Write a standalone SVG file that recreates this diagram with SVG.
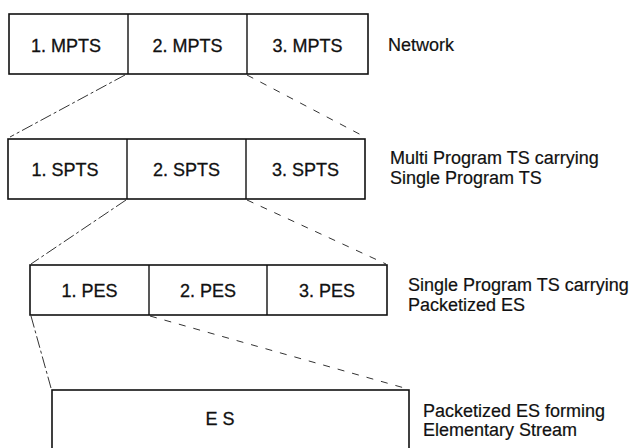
<svg xmlns="http://www.w3.org/2000/svg" width="640" height="448" viewBox="0 0 640 448">
  <style>
    .box { fill: #ffffff; stroke: #111111; stroke-width: 1.6; }
    .div { stroke: #111111; stroke-width: 1.4; }
    .cell { font-family: "Liberation Sans", Arial, sans-serif; font-size: 18px; fill: #111111; stroke: #111111; stroke-width: 0.3; text-anchor: middle; }
    .lbl { font-family: "Liberation Sans", Arial, sans-serif; font-size: 18px; fill: #111111; stroke: #111111; stroke-width: 0.2; }
    .lead { stroke: #333333; stroke-width: 1; fill: none; stroke-dasharray: 12 3 3 3; }
    .trail { stroke: #333333; stroke-width: 1; fill: none; stroke-dasharray: 7 8; }
  </style>
  <rect width="640" height="448" fill="#ffffff"/>

  <!-- zoom-in connectors between layers -->
  <g id="connectors">
    <line class="lead" x1="125" y1="75" x2="10" y2="137"/>
    <line class="trail" x1="247" y1="75" x2="365" y2="137"/>
    <line class="lead" x1="126" y1="200" x2="31" y2="264"/>
    <line class="trail" x1="247" y1="200" x2="386" y2="264"/>
    <line class="lead" x1="31" y1="316" x2="51" y2="388"/>
    <line class="trail" x1="150" y1="316" x2="408" y2="389"/>
  </g>

  <!-- network layer: multi program transport streams -->
  <g id="mpts">
    <rect class="box" x="9" y="14" width="359" height="60"/>
    <line class="div" x1="128" y1="14" x2="128" y2="74"/>
    <line class="div" x1="247" y1="14" x2="247" y2="74"/>
    <text class="cell" x="66" y="52">1. MPTS</text>
    <text class="cell" x="187.5" y="52">2. MPTS</text>
    <text class="cell" x="307.5" y="52">3. MPTS</text>
  </g>
  <g id="label-network">
    <text class="lbl" x="388" y="51">Network</text>
  </g>

  <!-- single program transport streams -->
  <g id="spts">
    <rect class="box" x="8" y="139" width="357" height="60"/>
    <line class="div" x1="127" y1="139" x2="127" y2="199"/>
    <line class="div" x1="246" y1="139" x2="246" y2="199"/>
    <text class="cell" x="65" y="176">1. SPTS</text>
    <text class="cell" x="186.5" y="176">2. SPTS</text>
    <text class="cell" x="305.5" y="176">3. SPTS</text>
  </g>
  <g id="label-spts">
    <text class="lbl" x="390" y="164">Multi Program TS carrying</text>
    <text class="lbl" x="390" y="184">Single Program TS</text>
  </g>

  <!-- packetized elementary streams -->
  <g id="pes">
    <rect class="box" x="30" y="265" width="357" height="50"/>
    <line class="div" x1="149" y1="265" x2="149" y2="315"/>
    <line class="div" x1="267" y1="265" x2="267" y2="315"/>
    <text class="cell" x="89.5" y="297">1. PES</text>
    <text class="cell" x="208" y="297">2. PES</text>
    <text class="cell" x="327" y="297">3. PES</text>
  </g>
  <g id="label-pes">
    <text class="lbl" x="408" y="291">Single Program TS carrying</text>
    <text class="lbl" x="408" y="311">Packetized ES</text>
  </g>

  <!-- elementary stream (continues below the frame) -->
  <g id="es">
    <rect class="box" x="52" y="390" width="357" height="80"/>
    <text class="cell" x="220" y="425">E S</text>
  </g>
  <g id="label-es">
    <text class="lbl" x="423" y="417">Packetized ES forming</text>
    <text class="lbl" x="423" y="436">Elementary Stream</text>
  </g>
</svg>
